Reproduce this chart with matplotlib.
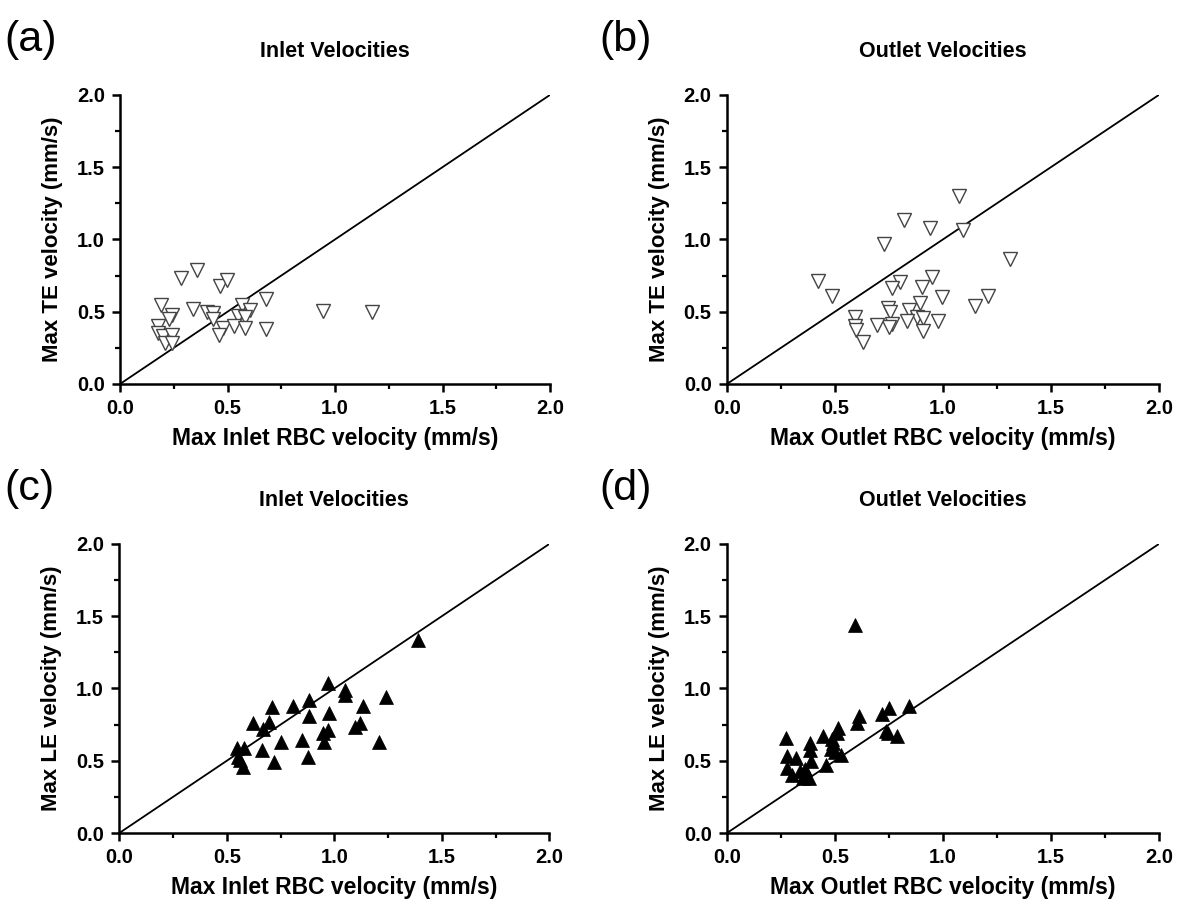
import numpy as np
import matplotlib.pyplot as plt
from matplotlib.ticker import MultipleLocator

plt.rcParams['font.family'] = ['Liberation Sans', 'DejaVu Sans']

# (a) inlet, TE vs RBC
a_x = [0.19, 0.284, 0.357, 0.465, 0.499, 0.24, 0.229, 0.338, 0.403, 0.434, 0.434,
       0.566, 0.679, 0.605, 0.55, 0.581, 0.478, 0.53, 0.58, 0.679, 0.462, 0.178,
       0.175, 0.201, 0.24, 0.21, 0.24, 0.943, 1.174]
a_y = [0.547, 0.73, 0.79, 0.68, 0.72, 0.48, 0.45, 0.52, 0.50, 0.49, 0.45,
       0.547, 0.59, 0.51, 0.47, 0.46, 0.39, 0.40, 0.39, 0.38, 0.34, 0.40,
       0.35, 0.33, 0.34, 0.286, 0.286, 0.505, 0.495]

# (b) outlet, TE vs RBC
b_x = [0.423, 0.485, 0.728, 0.821, 0.94, 1.073, 1.094, 1.31, 0.80, 0.762, 0.95,
       0.903, 0.994, 0.894, 0.747, 0.755, 0.844, 0.878, 0.909, 0.978, 0.832,
       0.762, 0.751, 0.693, 0.593, 0.593, 0.597, 0.628, 0.909, 1.148, 1.21]
b_y = [0.715, 0.611, 0.965, 1.137, 1.08, 1.30, 1.067, 0.866, 0.708, 0.665, 0.743,
       0.669, 0.604, 0.558, 0.523, 0.495, 0.51, 0.465, 0.456, 0.4375, 0.433,
       0.415, 0.396, 0.41, 0.46, 0.40, 0.373, 0.287, 0.363, 0.542, 0.611]

# (c) inlet, LE vs RBC
c_x = [1.391, 0.972, 1.051, 1.051, 1.239, 1.132, 0.882, 0.806, 0.712, 0.882,
       0.977, 0.62, 0.696, 0.667, 1.12, 1.098, 0.972, 0.946, 0.952, 0.851,
       0.752, 0.664, 1.209, 0.879, 0.721, 0.546, 0.58, 0.553, 0.561, 0.574]
c_y = [1.336, 1.04, 0.99, 0.955, 0.943, 0.879, 0.92, 0.881, 0.874, 0.81,
       0.828, 0.759, 0.77, 0.718, 0.763, 0.735, 0.713, 0.69, 0.632, 0.644,
       0.632, 0.574, 0.632, 0.528, 0.493, 0.586, 0.586, 0.528, 0.505, 0.459]

# (d) outlet, LE vs RBC
d_x = [0.591, 0.841, 0.751, 0.719, 0.613, 0.60, 0.735, 0.786, 0.744, 0.515,
       0.508, 0.443, 0.273, 0.384, 0.485, 0.492, 0.384, 0.28, 0.28, 0.30,
       0.32, 0.34, 0.35, 0.36, 0.38, 0.39, 0.46, 0.48, 0.50, 0.53, 0.36]
d_y = [1.44, 0.879, 0.863, 0.821, 0.81, 0.759, 0.706, 0.673, 0.694, 0.729,
       0.694, 0.671, 0.655, 0.625, 0.648, 0.621, 0.574, 0.53, 0.45, 0.40,
       0.52, 0.43, 0.38, 0.41, 0.38, 0.50, 0.47, 0.58, 0.56, 0.54, 0.44]

panels = [
    ('(a)', 'Inlet Velocities', 'Max Inlet RBC velocity (mm/s)', 'Max TE velocity (mm/s)', a_x, a_y, 'open'),
    ('(b)', 'Outlet Velocities', 'Max Outlet RBC velocity (mm/s)', 'Max TE velocity (mm/s)', b_x, b_y, 'open'),
    ('(c)', 'Inlet Velocities', 'Max Inlet RBC velocity (mm/s)', 'Max LE velocity (mm/s)', c_x, c_y, 'filled'),
    ('(d)', 'Outlet Velocities', 'Max Outlet RBC velocity (mm/s)', 'Max LE velocity (mm/s)', d_x, d_y, 'filled'),
]
positions = [
    [0.1019, 0.5776, 0.365, 0.318],
    [0.6171, 0.5776, 0.3667, 0.318],
    [0.1013, 0.0836, 0.365, 0.318],
    [0.6171, 0.0836, 0.3667, 0.318],
]
tag_pos = [(0.004, 0.956), (0.509, 0.956), (0.004, 0.462), (0.509, 0.462)]

fig = plt.figure(figsize=(11.78, 9.09), dpi=100)

for (tag, title, xlab, ylab, xs, ys, style), pos, tp in zip(panels, positions, tag_pos):
    ax = fig.add_axes(pos)
    ax.plot([0, 2], [0, 2], color='black', lw=1.3, zorder=1)
    if style == 'open':
        ax.plot(xs, ys, linestyle='none', marker='v', ms=10, mfc='white',
                mec='#444444', mew=1.0, zorder=3, clip_on=False)
    else:
        ax.plot(xs, ys, linestyle='none', marker='^', ms=10, mfc='black',
                mec='black', mew=0.5, zorder=3, clip_on=False)
    ax.set_xlim(0, 2)
    ax.set_ylim(0, 2)
    ax.xaxis.set_major_locator(MultipleLocator(0.5))
    ax.yaxis.set_major_locator(MultipleLocator(0.5))
    ax.xaxis.set_minor_locator(MultipleLocator(0.25))
    ax.yaxis.set_minor_locator(MultipleLocator(0.25))
    ax.xaxis.set_major_formatter(plt.FormatStrFormatter('%.1f'))
    ax.yaxis.set_major_formatter(plt.FormatStrFormatter('%.1f'))
    for s in ['top', 'right']:
        ax.spines[s].set_visible(False)
    for s in ['left', 'bottom']:
        ax.spines[s].set_linewidth(1.8)
    ax.tick_params(which='major', length=6, width=1.8, labelsize=14.5, pad=5)
    ax.tick_params(which='minor', length=3.5, width=1.6)
    for lbl in ax.get_xticklabels() + ax.get_yticklabels():
        lbl.set_fontweight('bold')
    ax.set_xlabel(xlab, fontsize=16.5, fontweight='bold', labelpad=6)
    ax.set_ylabel(ylab, fontsize=16, fontweight='bold', labelpad=10)
    ax.set_title(title, fontsize=15.5, fontweight='bold', pad=27)
    fig.text(tp[0], tp[1], tag, fontsize=31, ha='left', va='center')

fig.savefig('out.png', dpi=100, facecolor='white')
